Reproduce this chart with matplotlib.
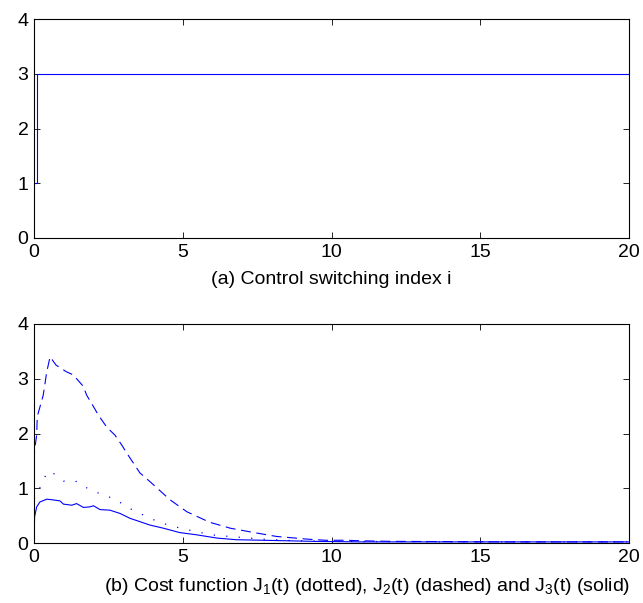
import numpy as np
import matplotlib
matplotlib.use('Agg')
import matplotlib.pyplot as plt

plt.rcParams['font.family'] = ['Liberation Sans', 'DejaVu Sans']
plt.rcParams['mathtext.fontset'] = 'custom'
plt.rcParams['mathtext.rm'] = 'Liberation Sans'
plt.rcParams['mathtext.it'] = 'Liberation Sans'

# (a) control switching index
switch_t = [0, 0.1, 20]
switch_i = [1, 3, 3]

# (b) cost functions
t_j1 = [0, 0.09, 0.26, 0.4, 0.56, 0.74, 0.99, 1.27, 1.55, 1.79, 2.05, 2.31, 2.61, 2.87,
        3.11, 3.37, 3.6, 4.2, 4.7, 5.5, 6.1, 6.8, 7.7, 8.8, 10, 12, 15, 20]
j1 = [0.8, 0.85, 1.10, 1.24, 1.32, 1.23, 1.13, 1.15, 1.10, 1.0, 0.95, 0.86, 0.83, 0.75,
      0.66, 0.59, 0.53, 0.38, 0.30, 0.20, 0.14, 0.11, 0.07, 0.04, 0.03, 0.025, 0.02, 0.02]

t_j2 = [0, 0.02, 0.09, 0.11, 0.31, 0.43, 0.54, 0.74, 1.08, 1.32, 1.66, 1.77, 2.0, 2.16,
        2.44, 2.72, 2.95, 3.12, 3.39, 3.56, 3.9, 4.57, 5.14, 5.9, 6.6,
        7.4, 8.15, 9.2, 9.8, 10.5, 11, 12, 14, 16, 18, 20]
j2 = [1.5, 1.7, 1.97, 2.31, 2.70, 3.13, 3.40, 3.25, 3.13, 3.07, 2.86, 2.70, 2.49, 2.34,
      2.12, 1.97, 1.79, 1.64, 1.42, 1.28, 1.12, 0.79, 0.57, 0.38, 0.27,
      0.19, 0.12, 0.07, 0.05, 0.05, 0.04, 0.03, 0.025, 0.02, 0.02, 0.02]

t_j3 = [0, 0.02, 0.09, 0.2, 0.43, 0.6, 0.87, 0.99, 1.27, 1.43, 1.66, 1.88, 2.0, 2.22,
        2.55, 2.89, 3.23, 3.56, 3.88, 4.35, 4.9, 5.46, 6.15, 6.8, 7.7, 9.4, 11, 14, 20]
j3 = [0, 0.48, 0.66, 0.75, 0.80, 0.79, 0.77, 0.71, 0.69, 0.72, 0.65, 0.66, 0.68, 0.61,
      0.60, 0.54, 0.45, 0.39, 0.33, 0.27, 0.19, 0.15, 0.09, 0.06, 0.05, 0.03, 0.02, 0.02, 0.02]

xticks = [0, 5, 10, 15, 20]
yticks = [0, 1, 2, 3, 4]
label_a = '(a) Control switching index i'
label_b = ('(b) Cost function J$_1$(t) (dotted), J$_2$(t) (dashed) '
           'and J$_3$(t) (solid)')

fig = plt.figure(figsize=(6.43, 6.03), dpi=100)
ax1 = fig.add_axes([34 / 643, 1 - 238 / 603, 595 / 643, 219 / 603])
ax2 = fig.add_axes([34 / 643, 1 - 543 / 603, 595 / 643, 219 / 603])

ax1.plot(switch_t, switch_i, color='blue', lw=0.8, drawstyle='steps-post')
ax2.plot(t_j1, j1, color='blue', lw=0.9, linestyle=(0, (1, 9)))
ax2.plot(t_j2, j2, color='blue', lw=0.8, linestyle=(0, (9, 5)))
ax2.plot(t_j3, j3, color='blue', lw=0.8)

for ax in (ax1, ax2):
    ax.set_xlim(0, 20)
    ax.set_ylim(0, 4)
    ax.set_xticks(xticks)
    ax.set_yticks(yticks)
    ax.tick_params(direction='in', top=True, right=True, length=4.5,
                   width=0.6, labelsize=14, pad=4)
    for spine in ax.spines.values():
        spine.set_linewidth(0.8)

ax1.set_xlabel(label_a, fontsize=14)
ax2.set_xlabel(label_b, fontsize=14)
ax1.xaxis.set_label_coords(0.5, -0.15)
ax2.xaxis.set_label_coords(0.5605, -0.15)

plt.savefig('out.png', dpi=100)
